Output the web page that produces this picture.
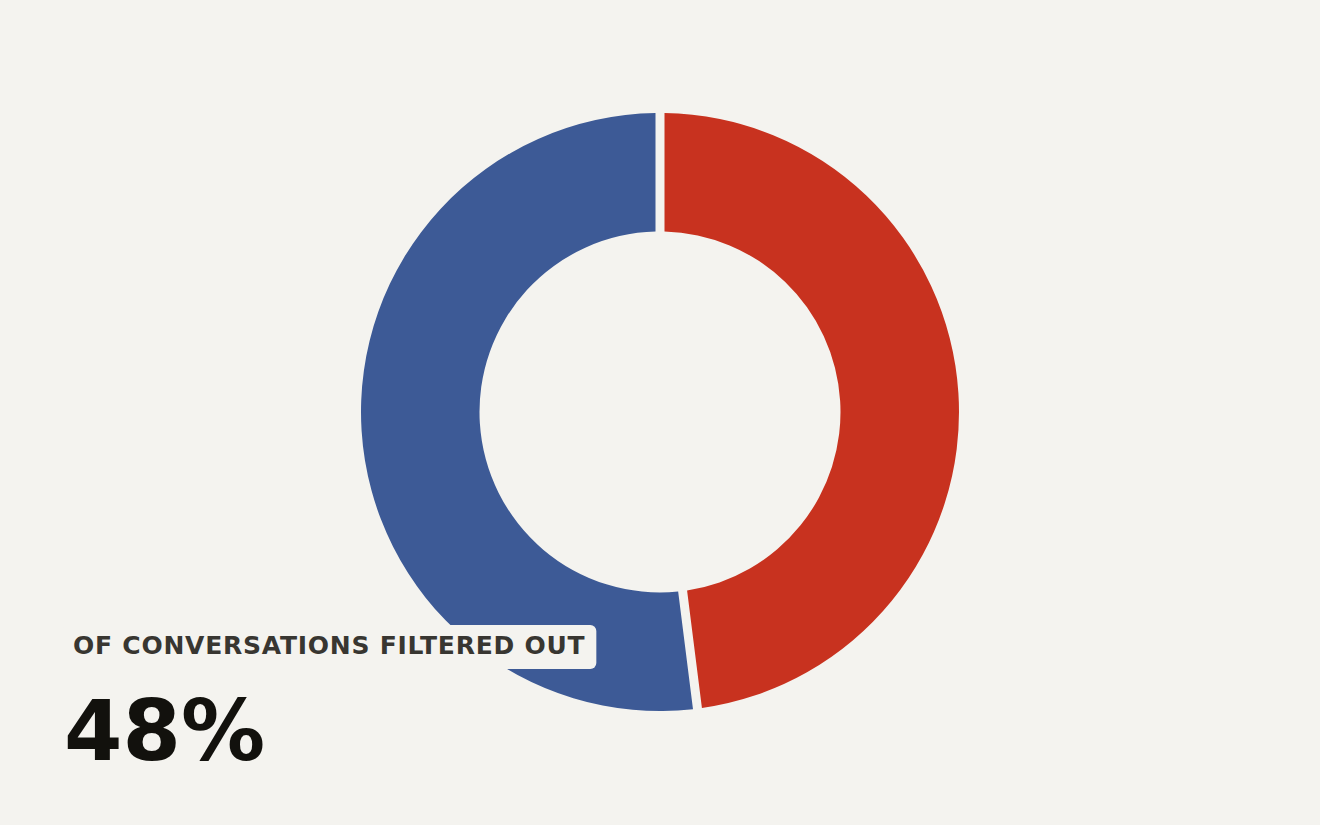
<!DOCTYPE html>
<html>
  <head>
    <title>Conversations Filtered Out</title>
    <script src="https://d3js.org/d3.v7.min.js" charset="utf-8"></script>
    <style>
      body {
        margin: 0;
        background-color: #f4f3ef;
        font-family: "DejaVu Sans", sans-serif;
      }
    </style>
  </head>
  <body>
    <svg></svg>

    <script>
      const categories = ["Filtered out", "Kept"];
      const shares = [48, 52];
      const colors = ["#c8321f", "#3d5a96"];
      const label = "OF CONVERSATIONS FILTERED OUT";

      const width = 1320;
      const height = 825;
      const center = { x: 660, y: 412 };
      const outerRadius = 299;
      const innerRadius = 180.5;

      const svg = d3
        .select("svg")
        .attr("width", width)
        .attr("height", height);

      svg
        .append("rect")
        .attr("width", width)
        .attr("height", height)
        .attr("fill", "#f4f3ef");

      const data = categories.map((c, i) => ({ name: c, value: shares[i] }));

      const pie = d3
        .pie()
        .sort(null)
        .value((d) => d.value);

      const arc = d3
        .arc()
        .innerRadius(innerRadius)
        .outerRadius(outerRadius)
        .padRadius(outerRadius)
        .padAngle(9 / outerRadius);

      const donut = svg
        .append("g")
        .attr("transform", `translate(${center.x}, ${center.y})`);

      donut
        .selectAll("path")
        .data(pie(data))
        .enter()
        .append("path")
        .attr("d", arc)
        .attr("fill", (d, i) => colors[i]);

      // label box sits on top of the donut
      const labelGroup = svg.append("g");

      const labelText = labelGroup
        .append("text")
        .attr("x", 73)
        .attr("y", 654)
        .attr("fill", "#383631")
        .attr("font-size", 25)
        .attr("font-weight", "bold")
        .attr("letter-spacing", 0.75)
        .text(label);

      const box = labelText.node().getBBox();
      labelGroup
        .insert("rect", "text")
        .attr("x", box.x - 11)
        .attr("y", 625)
        .attr("width", box.width + 22)
        .attr("height", 44)
        .attr("rx", 6)
        .attr("fill", "#f4f3ef");

      svg
        .append("text")
        .attr("x", 64)
        .attr("y", 760)
        .attr("fill", "#12110d")
        .attr("font-size", 84)
        .attr("font-weight", "bold")
        .text(shares[0] + "%");
    </script>
  </body>
</html>
